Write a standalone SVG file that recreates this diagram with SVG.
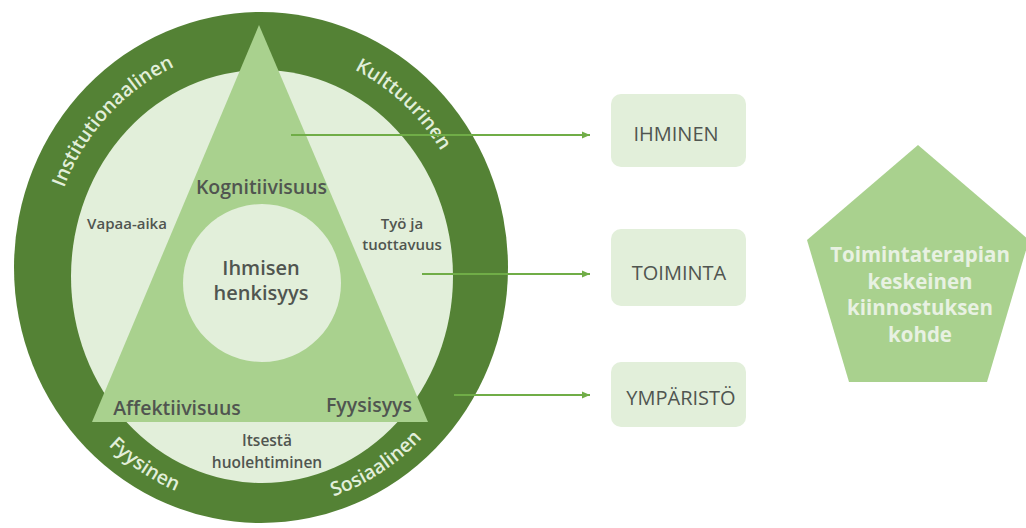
<svg xmlns="http://www.w3.org/2000/svg" width="1026" height="528" viewBox="0 0 1026 528">
<defs>
<style>
.ring{font-family:"Open Sans","Liberation Sans",sans-serif;font-size:19.5px;font-weight:600;fill:#E2EFDA;}
.lbl{font-family:"Open Sans","Liberation Sans",sans-serif;font-weight:600;fill:#505550;text-anchor:middle;}
.box{fill:#E2EFDA;}
.boxt{font-family:"Open Sans","Liberation Sans",sans-serif;font-size:20px;fill:#505550;text-anchor:middle;}
.pent{font-family:"Open Sans","Liberation Sans",sans-serif;font-weight:700;font-size:20.5px;fill:#E8F1E2;text-anchor:middle;}
.conn{stroke:#70AD47;stroke-width:2;fill:none;marker-end:url(#arr);}
</style>
<marker id="arr" markerUnits="userSpaceOnUse" markerWidth="9" markerHeight="8" refX="8" refY="4" orient="auto">
<path d="M0,0.5 L8,4 L0,7.5 z" fill="#70AD47"/>
</marker>
<path id="pInst" d="M 48.5 274 A 213 225 0 0 1 259.6 47.0"/>
<path id="pKult" d="M 246.6 47.6 A 213 225 0 0 1 474.0 256.3"/>
<path id="pFyys" d="M 42.3 325.3 A 225 237 0 0 0 312.1 502.9"/>
<path id="pSos" d="M 209 502.5 A 225 237 0 0 0 480.3 327.3"/>
</defs>

<g id="environment-ring">
<ellipse cx="261" cy="267.5" rx="247" ry="255.5" fill="#548235"/>
<ellipse cx="262" cy="276.5" rx="191" ry="206.5" fill="#E2EFDA"/>
<text class="ring"><textPath href="#pInst" startOffset="50%" text-anchor="middle">Institutionaalinen</textPath></text>
<text class="ring"><textPath href="#pKult" startOffset="50%" text-anchor="middle">Kulttuurinen</textPath></text>
<text class="ring"><textPath href="#pFyys" startOffset="50%" text-anchor="middle">Fyysinen</textPath></text>
<text class="ring"><textPath href="#pSos" startOffset="50%" text-anchor="middle">Sosiaalinen</textPath></text>
</g>

<g id="occupation-labels">
<text class="lbl" font-size="15" x="127" y="229">Vapaa-aika</text>
<text class="lbl" font-size="15" x="402" y="229">Työ ja</text>
<text class="lbl" font-size="15" x="402" y="250">tuottavuus</text>
<text class="lbl" font-size="15.5" x="267" y="446">Itsestä</text>
<text class="lbl" font-size="15.5" x="267" y="468">huolehtiminen</text>
</g>

<g id="person-triangle">
<polygon points="259,25 428,422 92,422" fill="#A9D18E"/>
<text class="lbl" font-size="19.5" x="261.5" y="194">Kognitiivisuus</text>
<text class="lbl" font-size="19.5" x="177" y="415">Affektiivisuus</text>
<text class="lbl" font-size="19.5" x="369" y="412">Fyysisyys</text>
</g>

<g id="spirituality">
<ellipse cx="262" cy="283" rx="79" ry="79" fill="#E2EFDA"/>
<text class="lbl" font-size="20" x="261" y="275">Ihmisen</text>
<text class="lbl" font-size="20" x="261" y="300">henkisyys</text>
</g>

<g id="connectors">
<line class="conn" x1="291" y1="135" x2="590" y2="135"/>
<line class="conn" x1="422" y1="274" x2="590" y2="274"/>
<line class="conn" x1="454" y1="395" x2="590" y2="395"/>
</g>

<g id="box-ihminen">
<rect class="box" x="611" y="94" width="135" height="73" rx="10"/>
<text class="boxt" x="676" y="141">IHMINEN</text>
</g>
<g id="box-toiminta">
<rect class="box" x="611" y="229" width="135" height="77" rx="10"/>
<text class="boxt" x="679" y="280">TOIMINTA</text>
</g>
<g id="box-ymparisto">
<rect class="box" x="611" y="362" width="135" height="65" rx="10"/>
<text class="boxt" x="681" y="405">YMPÄRISTÖ</text>
</g>

<g id="pentagon">
<polygon points="918,145 1029,240 987,382 849,382 807,240" fill="#A9D18E"/>
<text class="pent" x="920" y="262">Toimintaterapian</text>
<text class="pent" x="920" y="288.5">keskeinen</text>
<text class="pent" x="920" y="315">kiinnostuksen</text>
<text class="pent" x="920" y="341.5">kohde</text>
</g>
</svg>
